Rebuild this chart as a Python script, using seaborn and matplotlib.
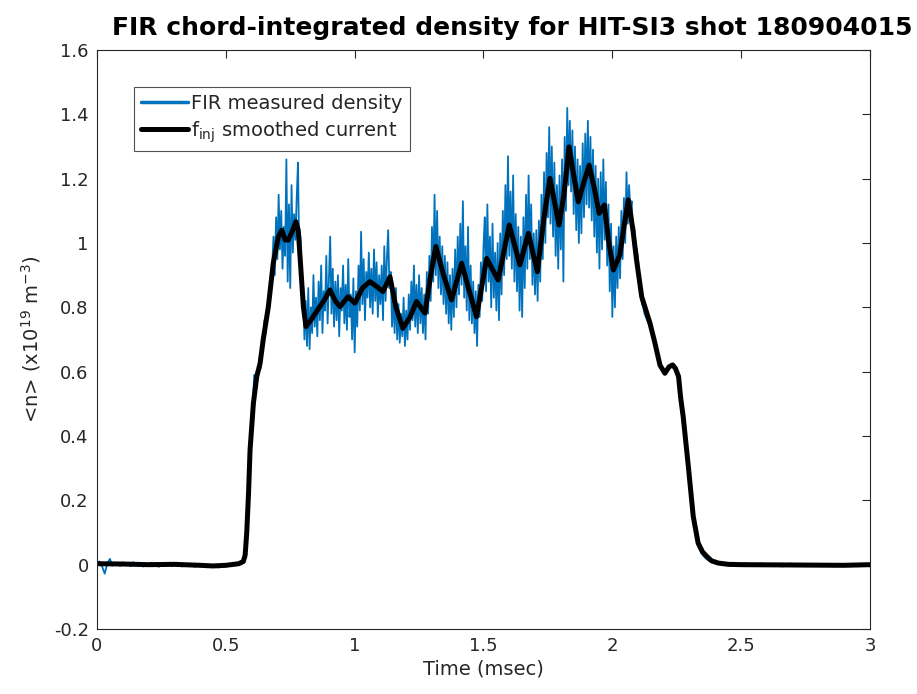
import numpy as np
import pandas as pd
import matplotlib
matplotlib.use("Agg")
import matplotlib.pyplot as plt
import seaborn as sns

# ---------------- data ----------------
title = "FIR chord-integrated density for HIT-SI3 shot 180904015"
xlabel = "Time (msec)"
ylabel = r"<n> (x10$^{19}$ m$^{-3}$)"
legend_labels = ["FIR measured density", r"f$_{\rm inj}$ smoothed current"]
xticks = [0, 0.5, 1, 1.5, 2, 2.5, 3]
yticks = [-0.2, 0, 0.2, 0.4, 0.6, 0.8, 1.0, 1.2, 1.4, 1.6]

# FIR measured density (blue), sampled segments: (start time, step, values)
fir_pre_start, fir_pre_step = 0.0, 0.01
fir_pre = [0.002, 0.010, -0.006, -0.028, 0.004, 0.018, -0.003, 0.006, 0.001, -0.004,
           0.007, -0.002, 0.003, -0.005, 0.008, 0.000, -0.003, 0.005, -0.006, 0.002,
           -0.001, 0.006, -0.004, 0.003, -0.007, 0.004, 0.000, -0.003, 0.005, -0.005,
           0.002, -0.002, 0.004, -0.006, 0.001, -0.004, 0.003, -0.002, -0.007, 0.002,
           -0.005, 0.001, -0.003, -0.008, 0.000, -0.006, -0.002, -0.009, -0.004, -0.001,
           -0.006, 0.000, -0.004, 0.002, -0.002, 0.004, 0.001, 0.010]

fir_act_start, fir_act_step = 0.575, 0.005
fir_act = [
    0.02,
    0.07, 0.20, 0.27, 0.38, 0.40, 0.50, 0.59, 0.55, 0.60, 0.58,
    0.64, 0.61, 0.70, 0.68, 0.76, 0.72, 0.80, 0.78, 0.86, 0.84, 0.93,
    1.02, 0.90, 1.08, 0.95, 1.15, 0.98, 1.10, 0.92, 1.05, 0.96,
    1.26, 0.88, 1.12, 0.86, 1.18, 0.97, 1.09, 1.01, 1.14, 1.25,
    0.94, 1.02, 0.83, 0.86,
    0.70, 0.82, 0.68, 0.86, 0.67, 0.80, 0.72, 0.90, 0.74, 0.83,
    0.71, 0.88, 0.76, 0.93, 0.72, 0.85, 0.79, 0.96, 0.75, 0.89,
    1.02, 0.78, 0.92, 0.74, 0.88, 0.76, 0.90, 0.71, 0.86, 0.79,
    0.93, 0.75, 0.87, 0.73, 0.95, 0.77, 0.84, 0.70, 0.89, 0.66,
    0.85, 0.74, 0.93, 0.79, 1.035, 0.81, 0.95, 0.76, 0.91, 0.83,
    0.97, 0.80, 0.92, 0.78, 0.98, 0.82, 0.94, 0.77, 0.90, 0.81,
    0.93, 0.76, 0.99, 0.82, 0.95, 1.04, 0.86, 0.91, 0.74, 0.85,
    0.72, 0.86, 0.70, 0.81, 0.69, 0.78, 0.71, 0.83, 0.68, 0.79,
    0.70, 0.84, 0.73, 0.88, 0.76, 0.93, 0.74, 0.87, 0.72, 0.90,
    0.75, 0.86, 0.72, 0.84, 0.70, 0.91, 0.78, 0.96, 0.82, 1.05,
    0.88, 1.15, 0.90, 1.10, 0.86, 1.02, 0.84, 0.99, 0.81, 0.96,
    0.78, 0.94, 0.75, 0.90, 0.73, 0.92, 0.77, 0.98, 0.80, 1.02,
    0.84, 1.06, 0.87, 1.13, 0.83, 0.99, 0.79, 1.05, 0.76, 0.93,
    0.75, 0.88, 0.72, 0.85, 0.68, 0.87, 0.77, 0.94, 0.82, 0.99,
    1.08, 0.85, 1.12, 0.88, 1.02, 0.80, 1.06, 0.83, 0.97, 0.79,
    1.00, 0.76, 1.03, 0.84, 1.10, 0.90, 1.18, 0.95, 1.27, 0.96,
    1.16, 0.92, 1.21, 0.88, 1.09, 0.85, 1.05, 0.79, 1.02, 0.77,
    1.08, 0.86, 1.15, 0.92, 1.21, 0.95, 1.12, 0.87, 1.03, 0.84,
    1.04, 0.82, 1.07, 0.88, 1.15, 0.95, 1.22, 1.00, 1.28, 1.08,
    1.36, 1.06, 1.30, 1.02, 1.25, 0.96, 1.18, 0.92, 1.21, 0.98,
    1.26, 0.88, 1.33, 1.10, 1.42, 1.18, 1.38, 1.16, 1.35, 1.09,
    1.30, 1.04, 1.26, 1.00, 1.24, 1.03, 1.31, 1.08, 1.34, 1.12,
    1.38, 1.11, 1.33, 1.07, 1.29, 1.02, 1.24, 0.97, 1.20, 0.92,
    1.22, 0.98, 1.26, 1.01, 1.19, 0.93, 1.12, 0.85, 1.06, 0.77,
    0.99, 0.80, 1.02, 0.86, 1.05, 0.89, 1.10, 0.95, 1.14, 1.00,
    1.22, 1.06, 1.18, 1.10, 1.13, 1.04, 1.05, 0.99, 0.98, 0.95,
    0.89, 0.84, 0.81, 0.80, 0.78, 0.77, 0.76, 0.75, 0.745, 0.73,
    0.72, 0.70, 0.69, 0.67, 0.655, 0.64, 0.625, 0.615, 0.605, 0.598,
    0.595, 0.60, 0.608, 0.615, 0.62, 0.622, 0.62, 0.615, 0.605, 0.595,
    0.585, 0.56, 0.52, 0.49, 0.46, 0.42, 0.38, 0.34, 0.305, 0.265,
    0.23, 0.19, 0.15, 0.12, 0.09, 0.068, 0.055, 0.045, 0.037, 0.031,
    0.026, 0.022, 0.018, 0.015, 0.012, 0.010, 0.008, 0.006, 0.005, 0.004,
]

fir_post_start, fir_post_step = 2.41, 0.01
fir_post = [0.004, 0.001, -0.002, 0.003, 0.000, -0.004, 0.006, -0.001, 0.002, -0.003,
            0.001, 0.005, -0.002, 0.000, -0.005, 0.003, -0.001, 0.004, -0.003, 0.002,
            -0.004, 0.001, 0.003, -0.002, 0.000, -0.006, 0.002, -0.001, 0.004, -0.003,
            0.001, -0.002, 0.003, -0.004, 0.000, 0.002, -0.005, 0.001, -0.002, 0.003,
            -0.003, 0.000, -0.004, 0.002, -0.001, -0.006, 0.001, -0.003, 0.002, -0.004,
            0.000, -0.002, 0.003, -0.005, -0.001, 0.001, -0.004, -0.002, 0.002, -0.006]

# f_inj smoothed current (black)
inj_t = [0.0, 0.1, 0.2, 0.3, 0.4, 0.45, 0.5, 0.55, 0.568, 0.575, 0.581, 0.588, 0.594,
         0.607, 0.62, 0.633, 0.645, 0.665, 0.684, 0.704, 0.717, 0.73, 0.742, 0.757,
         0.772, 0.781, 0.788, 0.801, 0.811, 0.83, 0.852, 0.88, 0.904, 0.925, 0.943,
         0.974, 1.001, 1.03, 1.059, 1.085, 1.11, 1.137, 1.16, 1.187, 1.215, 1.24,
         1.273, 1.295, 1.315, 1.345, 1.376, 1.415, 1.445, 1.473, 1.512, 1.557, 1.6,
         1.641, 1.674, 1.709, 1.735, 1.758, 1.793, 1.812, 1.832, 1.85, 1.868, 1.89,
         1.91, 1.93, 1.949, 1.969, 1.985, 2.004, 2.029, 2.045, 2.062, 2.08, 2.094,
         2.114, 2.146, 2.165, 2.185, 2.204, 2.22, 2.234, 2.245, 2.257, 2.265, 2.275,
         2.295, 2.314, 2.333, 2.35, 2.366, 2.385, 2.411, 2.45, 2.5, 2.7, 2.9, 3.0]
inj_y = [0.003, 0.002, 0.0, 0.001, -0.002, -0.004, -0.002, 0.003, 0.01, 0.03, 0.098,
         0.22, 0.357, 0.502, 0.585, 0.626, 0.699, 0.802, 0.937, 1.02, 1.04, 1.01,
         1.009, 1.035, 1.066, 1.04, 0.957, 0.802, 0.74, 0.76, 0.787, 0.82, 0.854,
         0.82, 0.802, 0.833, 0.813, 0.86, 0.88, 0.865, 0.849, 0.895, 0.8, 0.735,
         0.77, 0.818, 0.782, 0.9, 0.989, 0.9, 0.823, 0.937, 0.85, 0.771, 0.952,
         0.885, 1.056, 0.932, 1.03, 0.911, 1.08, 1.201, 1.056, 1.15, 1.299, 1.21,
         1.128, 1.19, 1.242, 1.17, 1.092, 1.118, 1.01, 0.916, 0.963, 1.05, 1.134,
         1.04, 0.947, 0.833, 0.751, 0.69, 0.62, 0.595, 0.615, 0.621, 0.61, 0.585,
         0.52, 0.46, 0.305, 0.15, 0.067, 0.04, 0.026, 0.012, 0.005, 0.001, 0.0,
         -0.001, -0.002, 0.0]

# ---------------- build frames ----------------
def seg(start, step, vals):
    return start + step * np.arange(len(vals))

fir_t = np.concatenate([seg(fir_pre_start, fir_pre_step, fir_pre),
                        seg(fir_act_start, fir_act_step, fir_act),
                        seg(fir_post_start, fir_post_step, fir_post)])
fir_y = np.concatenate([fir_pre, fir_act, fir_post])
df_fir = pd.DataFrame({"t": fir_t, "n": fir_y})
df_inj = pd.DataFrame({"t": inj_t, "n": inj_y})

# ---------------- plot ----------------
sns.set_theme(style="white")
plt.rcParams["font.family"] = ["DejaVu Sans"]
plt.rcParams["mathtext.default"] = "regular"

fig = plt.figure(figsize=(9.17, 6.94), dpi=100)
ax = fig.add_axes([97 / 917, 1 - 629 / 694, (870 - 97) / 917, (629 - 50) / 694])

sns.lineplot(data=df_fir, x="t", y="n", ax=ax, color="#0072BD", lw=1.3,
             estimator=None, sort=False, label=legend_labels[0])
sns.lineplot(data=df_inj, x="t", y="n", ax=ax, color="black", lw=3.6,
             estimator=None, sort=False, label=legend_labels[1])

ax.set_xlim(0, 3)
ax.set_ylim(-0.2, 1.6)
ax.set_xticks(xticks)
ax.set_yticks(yticks)
ax.set_xticklabels([f"{v:g}" for v in xticks])
ax.set_yticklabels([f"{v:g}" for v in yticks])
ax.tick_params(direction="in", top=True, right=True, length=6, width=0.8,
               labelsize=13, colors="#262626", pad=6)
for s in ax.spines.values():
    s.set_visible(True)
    s.set_color("#262626")
    s.set_linewidth(0.8)

ax.set_xlabel(xlabel, fontsize=14, color="#262626", labelpad=3)
ax.set_ylabel(ylabel, fontsize=14, color="#262626", labelpad=8)
ax.set_title(title, fontsize=18, fontweight="bold", color="black", pad=11,
             x=0.537)

leg = ax.legend(loc="upper left", bbox_to_anchor=(0.048, 0.936), borderaxespad=0,
                fontsize=14, frameon=True, fancybox=False, handlelength=2.4,
                handletextpad=0.2, borderpad=0.35, labelspacing=0.32)
leg.get_frame().set_edgecolor("#262626")
leg.get_frame().set_linewidth(0.8)
for line in leg.get_lines():
    line.set_linewidth(3.6 if line.get_color() == "black" else 2.5)

fig.savefig("out.png", dpi=100)
